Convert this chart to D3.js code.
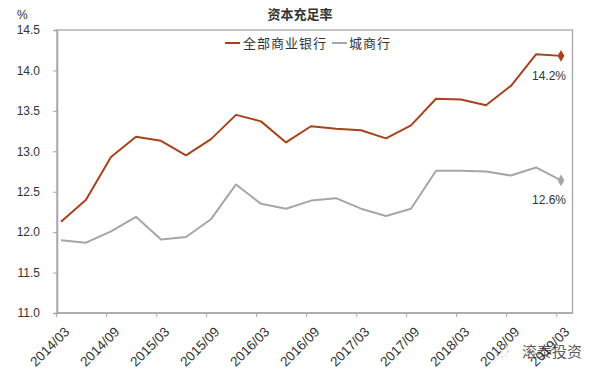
<!DOCTYPE html>
<html><head><meta charset="utf-8">
<script src="https://cdn.jsdelivr.net/npm/d3@7/dist/d3.min.js"></script>
<style>
body{margin:0;background:#fff;}
svg{display:block;}
text{font-family:"Liberation Sans",Arial,sans-serif;fill:#333;}
.cjk{font-family:"Noto Sans CJK SC",sans-serif;}
</style></head>
<body>
<svg id="c" width="601" height="381"></svg>
<script>
const dates = ["2014/03","2014/06","2014/09","2014/12","2015/03","2015/06","2015/09","2015/12",
"2016/03","2016/06","2016/09","2016/12","2017/03","2017/06","2017/09","2017/12",
"2018/03","2018/06","2018/09","2018/12","2019/03"];
const allBanks = [12.13,12.40,12.93,13.18,13.13,12.95,13.15,13.45,13.37,13.11,13.31,13.28,13.26,13.16,13.32,13.65,13.64,13.57,13.81,14.20,14.18];
const cityBanks = [11.90,11.87,12.01,12.19,11.91,11.94,12.16,12.59,12.35,12.29,12.39,12.42,12.29,12.20,12.29,12.76,12.76,12.75,12.70,12.80,12.64];
const yTicks = [11.0,11.5,12.0,12.5,13.0,13.5,14.0,14.5];
const tickLabels = dates.filter((d,i)=>i%2===0);
const seriesNames = ["全部商业银行","城商行"];
const endLabels = ["14.2%","12.6%"];
const colors = ["#A8421C","#A6A6A6"];

const svg = d3.select("#c");
const x = d3.scalePoint().domain(dates).range([61,561]);
const y = d3.scaleLinear().domain([11,14.5]).range([313,30]);
const tickOff = x.step()*0.175;

// frame
svg.append("rect").attr("x",57).attr("y",30).attr("width",515.5).attr("height",283)
  .attr("fill","none").attr("stroke","#a6a6a6").attr("stroke-width",1.3);

// y axis
const ya = svg.append("g").attr("transform","translate(57,0)")
  .call(d3.axisLeft(y).tickValues(yTicks).tickFormat(d3.format(".1f")).tickSize(4).tickPadding(13));
ya.select(".domain").attr("stroke","#a6a6a6").attr("stroke-width",1.5);
ya.selectAll(".tick line").attr("stroke","#a6a6a6");
ya.selectAll(".tick text").attr("font-size",12).attr("fill","#333").attr("font-family","Liberation Sans, Arial, sans-serif");

// x axis
const xa = svg.append("g").attr("transform","translate(0,313)");
xa.append("line").attr("x1",57).attr("x2",572.5).attr("y1",0).attr("y2",0).attr("stroke","#a6a6a6").attr("stroke-width",1.5);
const xt = xa.selectAll("g.t").data(tickLabels).enter().append("g").attr("class","t")
  .attr("transform",d=>`translate(${x(d)-tickOff},0)`);
xt.append("line").attr("y1",0).attr("y2",4).attr("stroke","#a6a6a6");
xt.append("text").text(d=>d).attr("font-size",13.5).attr("text-anchor","end")
  .attr("transform","translate(7,13) rotate(-45)").attr("dy","0.7em").attr("fill","#333");

// lines
const line = d3.line().x((d,i)=>x(dates[i])).y(d=>y(d));
[allBanks,cityBanks].forEach((s,k)=>{
  svg.append("path").datum(s).attr("d",line).attr("fill","none")
    .attr("stroke",colors[k]).attr("stroke-width",2).attr("stroke-linejoin","round");
  const last = s.length-1;
  svg.append("path").attr("d",d3.symbol(d3.symbolDiamond,40)())
    .attr("transform",`translate(${x(dates[last])},${y(s[last])})`).attr("fill",colors[k]);
  svg.append("text").text(endLabels[k]).attr("font-size",12).attr("text-anchor","middle")
    .attr("x",x(dates[last])-12).attr("y",y(s[last])+24).attr("fill","#333");
});

// title, unit
svg.append("text").attr("class","cjk").text("资本充足率").attr("x",300).attr("y",19)
  .attr("text-anchor","middle").attr("font-size",13).attr("font-weight","bold").attr("fill","#111");
svg.append("text").text("%").attr("x",17).attr("y",19).attr("font-size",12);

// legend
const lg = [{x:225,tx:243},{x:332,tx:349}];
lg.forEach((p,k)=>{
  svg.append("line").attr("x1",p.x).attr("x2",p.x+15).attr("y1",43).attr("y2",43)
    .attr("stroke",colors[k]).attr("stroke-width",2);
  svg.append("text").attr("class","cjk").text(seriesNames[k]).attr("x",p.tx).attr("y",48)
    .attr("font-size",13).attr("letter-spacing",1).attr("fill","#333");
});

// watermark
svg.append("circle").attr("cx",502).attr("cy",351).attr("r",6).attr("fill","none").attr("stroke","#bbb").attr("stroke-dasharray","2,2");
svg.append("text").attr("class","cjk").text("滚泰投资").attr("x",522).attr("y",357)
  .attr("font-size",15).attr("fill","#999").attr("opacity",0.8);
</script>
</body></html>
